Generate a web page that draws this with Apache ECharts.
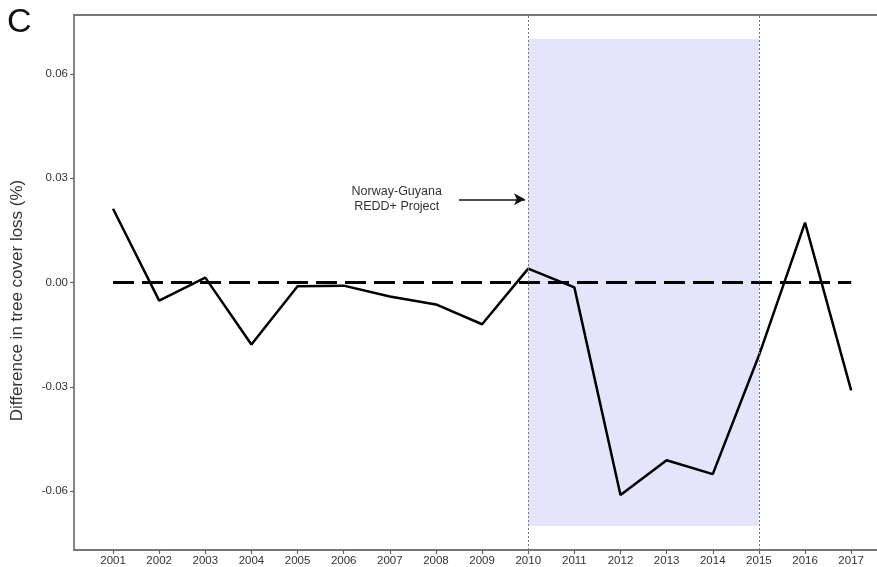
<!DOCTYPE html>
<html>
<head>
<meta charset="utf-8">
<script src="https://cdn.jsdelivr.net/npm/echarts@6/dist/echarts.min.js"></script>
<style>
  html, body { margin: 0; padding: 0; background: #fff; }
  #chart { width: 877px; height: 567px; }
</style>
</head>
<body>
<div id="chart"></div>
<script>
const years = [2001, 2002, 2003, 2004, 2005, 2006, 2007, 2008, 2009, 2010, 2011, 2012, 2013, 2014, 2015, 2016, 2017];
const diffLoss = [0.0212, -0.0052, 0.0014, -0.0178, -0.0011, -0.0009, -0.0040, -0.0063, -0.0120, 0.0040, -0.0014, -0.0611, -0.0511, -0.0551, -0.0210, 0.0172, -0.0310];
const yTicks = [-0.06, -0.03, 0, 0.03, 0.06];
const projectSpan = [2010, 2015];
const spanBand = [0.07, -0.07];
const arrowFrom = [2008.5, 0.0239];
const arrowTo = [2009.93, 0.0239];
const noteAt = [2007.15, 0.0239];
const noteText = 'Norway-Guyana\nREDD+ Project';

const xMin = 2000.154;
const xMax = 2017.56;
const frame = { color: '#777', width: 1.8 };

const chart = echarts.init(document.getElementById('chart'));

chart.setOption({
    animation: false,
    textStyle: { fontFamily: 'Liberation Sans, Arial, sans-serif' },
    graphic: [
        { type: 'text', left: 7, top: 6, style: { text: 'C', font: '34px Liberation Sans, Arial, sans-serif', fill: '#111' } },
    ],
    grid: { left: 74, right: 0, top: 15, bottom: 16 },
    xAxis: [
        {
            type: 'value',
            min: xMin,
            max: xMax,
            position: 'bottom',
            axisLine: { show: true, onZero: false, lineStyle: frame },
            splitLine: { show: false },
            axisTick: { show: true, customValues: years, length: 4, lineStyle: { color: '#666', width: 1.2 } },
            axisLabel: { customValues: years, fontSize: 11.5, color: '#333', margin: 5, formatter: v => String(v) },
        },
        {
            type: 'value',
            min: xMin,
            max: xMax,
            position: 'top',
            axisLine: { show: true, onZero: false, lineStyle: frame },
            splitLine: { show: false },
            axisTick: { show: false },
            axisLabel: { show: false },
        },
    ],
    yAxis: {
        type: 'value',
        min: -0.0769,
        max: 0.0769,
        name: 'Difference in tree cover loss (%)',
        nameLocation: 'middle',
        nameGap: 48,
        nameTextStyle: { fontSize: 17, color: '#333', padding: [0, 36, 0, 0] },
        axisLine: { show: true, onZero: false, lineStyle: frame },
        splitLine: { show: false },
        axisTick: { show: true, customValues: yTicks, length: 4, lineStyle: { color: '#666', width: 1.2 } },
        axisLabel: { customValues: yTicks, fontSize: 11.5, color: '#333', margin: 6, formatter: v => v.toFixed(2) },
    },
    series: [
        {
            name: 'zero',
            type: 'line',
            data: [[years[0], 0], [years[years.length - 1], 0]],
            symbol: 'none',
            lineStyle: { color: '#000', width: 3, type: [21, 8] },
            z: 3,
            markArea: {
                silent: true,
                itemStyle: { color: '#e4e4fa' },
                data: [[{ coord: [projectSpan[0], spanBand[0]] }, { coord: [projectSpan[1], spanBand[1]] }]],
            },
            markLine: {
                silent: true,
                symbol: 'none',
                label: { show: false },
                lineStyle: { color: '#777', type: [2, 2], width: 1 },
                data: projectSpan.map(x => ({ xAxis: x })),
            },
        },
        {
            name: 'diff',
            type: 'line',
            data: years.map((y, i) => [y, diffLoss[i]]),
            symbol: 'none',
            lineStyle: { color: '#000', width: 2.5 },
            z: 4,
            markLine: {
                silent: true,
                symbol: ['none', 'arrow'],
                symbolSize: [9, 11],
                label: { show: false },
                lineStyle: { color: '#111', type: 'solid', width: 1.5 },
                data: [[{ coord: arrowFrom }, { coord: arrowTo }]],
            },
            markPoint: {
                silent: true,
                symbol: 'circle',
                symbolSize: 0,
                label: { show: true, position: 'inside', formatter: noteText, fontSize: 12.5, color: '#333', lineHeight: 15, align: 'center' },
                data: [{ coord: noteAt }],
            },
        },
    ],
});
</script>
</body>
</html>
